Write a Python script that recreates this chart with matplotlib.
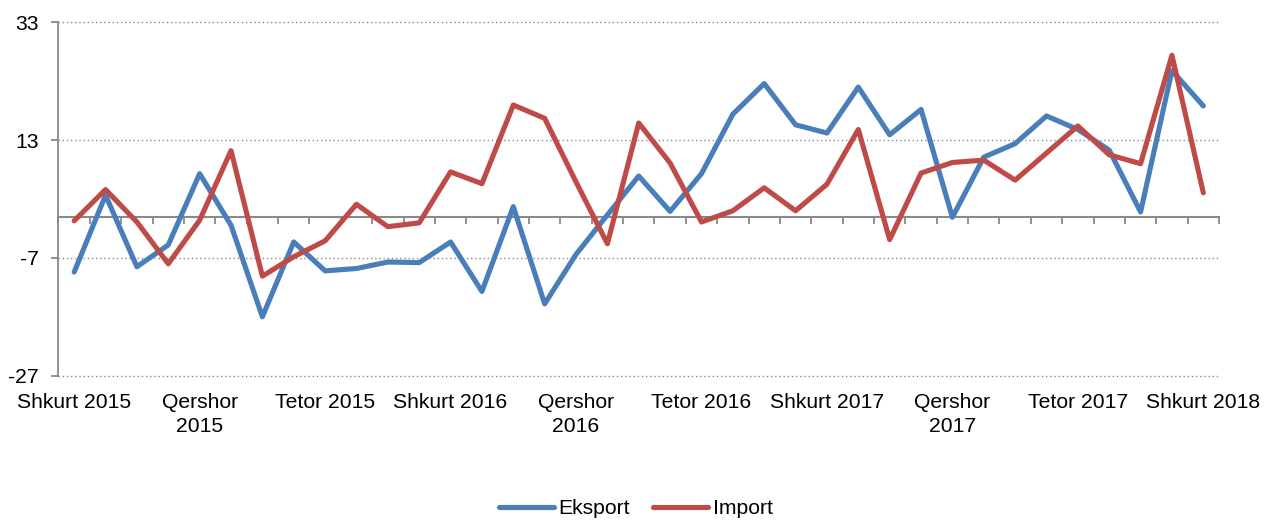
import matplotlib
matplotlib.use("Agg")
import matplotlib.pyplot as plt
import numpy as np

plt.rcParams['font.family'] = ['Liberation Sans', 'DejaVu Sans']

# ---- data ----
eksport = [-9.4, 3.65, -8.5, -4.8, 7.3, -1.45, -17.0, -4.3, -9.2, -8.8, -7.7, -7.8,
           -4.3, -12.7, 1.7, -14.8, -6.4, 0.3, 6.9, 0.9, 7.3, 17.4, 22.6, 15.6,
           14.2, 22.0, 13.9, 18.2, -0.1, 10.1, 12.4, 17.1, 14.8, 11.3, 0.8, 24.8, 18.8]
importi = [-0.7, 4.6, -0.9, -8.0, -0.6, 11.2, -10.1, -6.8, -4.1, 2.1, -1.7, -1.05,
           7.6, 5.6, 18.95, 16.7, 5.9, -4.6, 15.9, 9.1, -0.9, 1.0, 4.9, 1.0,
           5.5, 14.8, -3.9, 7.4, 9.2, 9.6, 6.2, 10.8, 15.4, 10.5, 9.0, 27.4, 4.05]
tick_labels = ["Shkurt 2015", "Qershor\n2015", "Tetor 2015", "Shkurt 2016",
               "Qershor\n2016", "Tetor 2016", "Shkurt 2017", "Qershor\n2017",
               "Tetor 2017", "Shkurt 2018"]
y_ticks = [-27, -7, 13, 33]
series_names = ["Eksport", "Import"]

n = len(eksport)
x = np.arange(n)
label_pos = np.arange(0, n, 4)

BLUE = "#4A7EBB"
RED = "#BE4B48"
GRAY = "#898989"
FS = 15.2

fig = plt.figure(figsize=(12.65, 5.2), dpi=100)
W, H = 1265, 520
ax = fig.add_axes([58.5 / W, 1 - 375.7 / H, (1219 - 58.5) / W, (375.7 - 22.3) / H])

ax.set_xlim(-0.5, n - 0.5)
ax.set_ylim(y_ticks[0], y_ticks[-1])

# grid
for v in y_ticks:
    ax.axhline(v, color="#8a8a8a", lw=1.0, linestyle=(0, (1, 2)), zorder=1, clip_on=False)

ax.plot(x, eksport, color=BLUE, lw=3.7, solid_joinstyle='round', solid_capstyle='round',
        label=series_names[0], zorder=3)
ax.plot(x, importi, color=RED, lw=3.7, solid_joinstyle='round', solid_capstyle='round',
        label=series_names[1], zorder=4)

# spines
for s in ['top', 'right']:
    ax.spines[s].set_visible(False)
ax.spines['left'].set_color(GRAY)
ax.spines['left'].set_linewidth(1.3)
ax.spines['bottom'].set_position(('data', 0))
ax.spines['bottom'].set_color(GRAY)
ax.spines['bottom'].set_linewidth(1.5)
ax.spines['bottom'].set_zorder(2)

ax.set_yticks(y_ticks)
ax.set_yticklabels([str(v) for v in y_ticks])
ax.tick_params(axis='y', direction='out', length=5, width=1.3, color=GRAY,
               pad=9, labelsize=FS, labelcolor='black')

ax.set_xticks(np.arange(-0.5, n, 1.0))
ax.set_xticklabels([])
ax.tick_params(axis='x', direction='out', length=5, width=1.3, color=GRAY)

sec = ax.secondary_xaxis('bottom')
sec.spines['bottom'].set_visible(False)
sec.set_xticks(label_pos)
sec.set_xticklabels(tick_labels, linespacing=1.3)
sec.tick_params(axis='x', length=0, pad=12.5, labelsize=FS, labelcolor='black')

handles, labels = ax.get_legend_handles_labels()
fig.legend(handles, labels, loc='center', bbox_to_anchor=(636 / W, 1 - 509 / H),
           ncol=2, frameon=False, fontsize=FS, handlelength=2.6, handletextpad=0.2,
           columnspacing=1.1)

fig.savefig("out.png", dpi=100)
